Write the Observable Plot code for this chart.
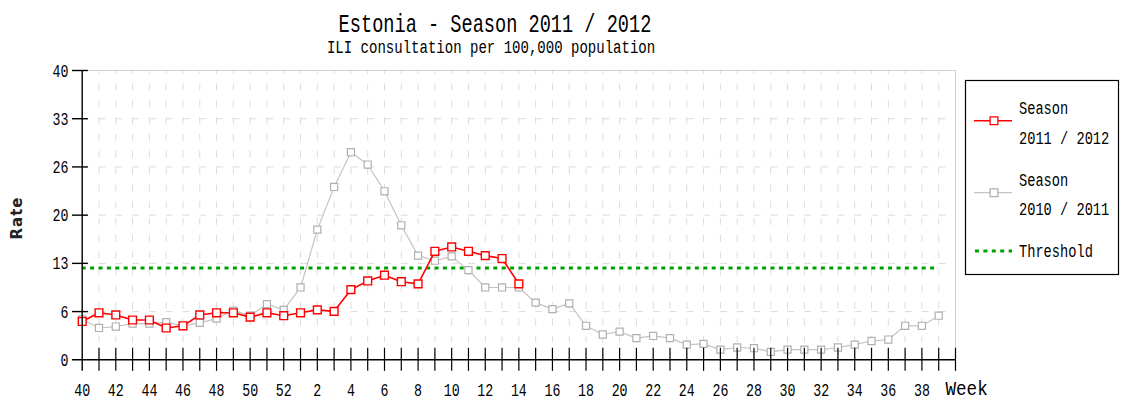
<!DOCTYPE html>
<html>
<head>
<meta charset="utf-8">
<script src="https://cdn.jsdelivr.net/npm/d3@7"></script>
<script src="https://cdn.jsdelivr.net/npm/@observablehq/plot@0.6"></script>
<style>
  body { margin: 0; background: #fff; }
  #wrap { position: relative; width: 1122px; height: 403px; overflow: hidden; }
  #wrap svg { position: absolute; left: 0; top: 0; }
</style>
</head>
<body>
<div id="wrap"></div>
<script>
// ---- data ----
const weeks = [40,41,42,43,44,45,46,47,48,49,50,51,52,
  1,2,3,4,5,6,7,8,9,10,11,12,13,14,15,16,17,18,19,20,21,22,23,24,25,26,
  27,28,29,30,31,32,33,34,35,36,37,38,39];
const season2011_2012 = [5.3,6.5,6.2,5.5,5.5,4.4,4.7,6.2,6.5,6.5,5.9,6.5,6.1,
  6.5,6.9,6.7,9.7,10.9,11.7,10.8,10.5,15.0,15.6,15.0,14.4,14.0,10.5];
const season2010_2011 = [5.6,4.4,4.6,5.0,5.0,5.2,4.7,5.1,5.7,6.8,6.1,7.7,6.9,
  10.0,18.0,23.9,28.7,27.0,23.3,18.6,14.4,13.7,14.3,12.4,10.0,10.0,10.0,7.9,7.0,7.8,
  4.7,3.5,3.9,3.0,3.3,3.0,2.1,2.2,1.4,1.7,1.6,1.1,1.4,1.4,1.4,1.7,2.1,2.6,2.8,4.7,4.7,6.1];
const thresholdValue = 12.7;
const yTickValues = [0, 40/6, 80/6, 20, 160/6, 200/6, 40];
const yTickLabels = ["0","6","13","20","26","33","40"];
const seriesNames = ["Season\n2011 / 2012", "Season\n2010 / 2011", "Threshold"];
const titleText = "Estonia - Season 2011 / 2012";
const subtitleText = "ILI consultation per 100,000 population";

// ---- styles ----
const RED = "#ff0000", GRAY_LINE = "#c4c4c4", GRAY_PT = "#b0b0b0", GREEN = "#00a000", GRID = "#dcdcdc";
const MONO = "Liberation Mono, DejaVu Sans Mono, monospace";

const idx = weeks.map((w, i) => i);
const red = season2011_2012.map((v, i) => ({i, v}));
const gray = season2010_2011.map((v, i) => ({i, v}));
const N = weeks.length; // 52 -> extra tick at end

const plot = Plot.plot({
  width: 1122,
  height: 403,
  marginLeft: 81.7,
  marginRight: 167,
  marginTop: 70,
  marginBottom: 43.7,
  x: {type: "linear", domain: [0, N], label: null},
  y: {domain: [0, 40], label: null},
  style: {background: "transparent", overflow: "visible"},
  marks: [
    // grid
    Plot.ruleX(idx.slice(1), {x: d => d, y1: 0, y2: 40, stroke: GRID, strokeDasharray: "7,9.8"}),
    Plot.ruleY(yTickValues.slice(1, -1), {y: d => d, x1: 0, x2: N, stroke: GRID, strokeDasharray: "7,9.8"}),
    // frame top and right
    Plot.ruleY([40], {x1: 0, x2: N, stroke: "#d0d0d0"}),
    Plot.ruleX([N], {y1: 0, y2: 40, stroke: "#d0d0d0"}),
    // threshold
    Plot.ruleY([thresholdValue], {x1: 0, x2: N - 1, stroke: GREEN, strokeWidth: 3, strokeDasharray: "4,4.4"}),
    // 2010/2011
    Plot.line(gray, {x: "i", y: "v", stroke: GRAY_LINE, strokeWidth: 1.2}),
    Plot.dot(gray, {x: "i", y: "v", symbol: "square", r: 4, stroke: GRAY_PT, fill: "white", strokeWidth: 1.2}),
    // 2011/2012
    Plot.line(red, {x: "i", y: "v", stroke: RED, strokeWidth: 1.6}),
    Plot.dot(red, {x: "i", y: "v", symbol: "square", r: 4.4, stroke: RED, fill: "white", strokeWidth: 1.4}),
    // axes lines and ticks
    Plot.ruleY([0], {x1: -0.58, x2: N, stroke: "black", strokeWidth: 1.4}),
    Plot.ruleX([0], {y1: -1.6, y2: 40, stroke: "black", strokeWidth: 1.4}),
    Plot.ruleX(idx.slice(1).concat([N]), {x: d => d, y1: -1.6, y2: 1.6, stroke: "black", strokeWidth: 1.2}),
    Plot.ruleY(yTickValues.slice(1), {y: d => d, x1: -0.58, x2: 0.37, stroke: "black", strokeWidth: 1.4}),
    Plot.axisX(idx.filter(i => i % 2 === 0), {
      tickSize: 0, tickPadding: 23, fontSize: 19, fontFamily: MONO, fill: "black", label: null,
      tickFormat: i => String(weeks[i])
    }),
    Plot.axisY(yTickValues, {
      tickSize: 0, tickPadding: 13.7, fontSize: 19, fontFamily: MONO, fill: "black", label: null,
      tickFormat: d => yTickLabels[yTickValues.indexOf(d)]
    }),
    Plot.text(["Week"], {x: () => N, y: () => 0, text: d => d, dx: -10, dy: 29, textAnchor: "start",
      fontSize: 20, fontFamily: MONO, fill: "black"})
  ]
});

// condense the monospaced labels horizontally
d3.select(plot).selectAll('g[aria-label="x-axis tick label"] text, g[aria-label="y-axis tick label"] text')
  .each(function() { this.setAttribute("transform", (this.getAttribute("transform") || "") + " scale(0.7,1)"); });
d3.select(plot).selectAll('g[aria-label="text"] text')
  .each(function() { this.setAttribute("transform", (this.getAttribute("transform") || "") + " scale(0.88,1)"); });

const wrap = document.getElementById("wrap");
wrap.appendChild(plot);

// ---- overlay: titles, y label, legend ----
const ov = d3.select(wrap).append("svg").attr("width", 1122).attr("height", 403)
  .attr("font-family", MONO);

function label(x, y, text, size, sx, anchor) {
  ov.append("text").attr("transform", `translate(${x},${y}) scale(${sx},1)`)
    .attr("text-anchor", anchor).attr("dy", "0.34em").attr("font-size", size)
    .attr("fill", "black").text(text);
}
label(495, 23, titleText, 25, 0.745, "middle");
label(491, 47, subtitleText, 18, 0.78, "middle");

ov.append("text").attr("transform", "translate(17,218) rotate(-90)")
  .attr("text-anchor", "middle").attr("dy", "0.36em")
  .attr("font-family", "DejaVu Sans, sans-serif").attr("font-size", 15).attr("font-weight", "bold")
  .attr("letter-spacing", 1).attr("fill", "#222").text("Rate");

// legend box
ov.append("rect").attr("x", 965.5).attr("y", 80.5).attr("width", 153).attr("height", 194)
  .attr("fill", "white").attr("stroke", "black").attr("stroke-width", 1.2);

const legendItems = [
  {name: seriesNames[0], color: RED, ly: 120.7, lines: [108, 138], kind: "pt", w: 1.6},
  {name: seriesNames[1], color: GRAY_LINE, pc: GRAY_PT, ly: 192.7, lines: [180, 209], kind: "pt", w: 1.2},
  {name: seriesNames[2], color: GREEN, ly: 251, lines: [251], kind: "dash", w: 3}
];
const sym = d3.symbol(d3.symbolSquare, 4.4 * 4.4 * Math.PI);
legendItems.forEach(it => {
  const ln = ov.append("line").attr("x1", 974).attr("x2", 1012).attr("y1", it.ly).attr("y2", it.ly)
    .attr("stroke", it.color).attr("stroke-width", it.w);
  if (it.kind === "dash") ln.attr("stroke-dasharray", "4,4.4").attr("x1", 975);
  else ov.append("path").attr("d", sym()).attr("transform", `translate(994,${it.ly})`)
    .attr("fill", "white").attr("stroke", it.pc || it.color).attr("stroke-width", 1.3);
  it.name.split("\n").forEach((t, k) => label(1019, it.lines[k], t, 19, 0.72, "start"));
});
</script>
</body>
</html>
